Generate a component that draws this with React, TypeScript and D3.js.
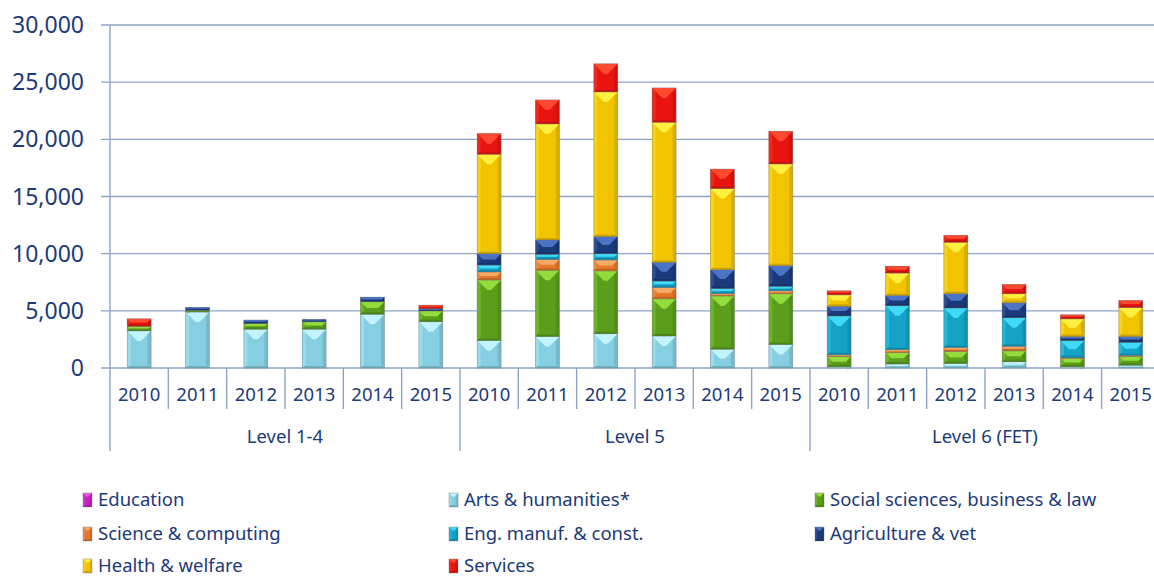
import React from "react";
import * as d3 from "d3";

const years = ["2010", "2011", "2012", "2013", "2014", "2015"];
const levels = ["Level 1-4", "Level 5", "Level 6 (FET)"];

const seriesNames = [
  "Education",
  "Arts & humanities*",
  "Social sciences, business & law",
  "Science & computing",
  "Eng. manuf. & const.",
  "Agriculture & vet",
  "Health & welfare",
  "Services",
];

// values per category: Level 1-4 (2010-2015), Level 5 (2010-2015), Level 6 (2010-2015)
const education = [0, 0, 0, 0, 0, 0, 0, 0, 0, 0, 0, 0, 0, 0, 0, 0, 0, 0];
const arts = [3250, 4900, 3400, 3400, 4700, 4050, 2400, 2750, 3000, 2800, 1650, 2050, 100, 350, 400, 550, 100, 250];
const social = [400, 150, 500, 650, 1100, 950, 5300, 5800, 5500, 3250, 4650, 4450, 900, 1000, 1050, 950, 750, 750];
const science = [0, 0, 0, 0, 0, 0, 700, 950, 950, 1000, 200, 250, 150, 250, 350, 400, 50, 100];
const eng = [0, 0, 0, 0, 0, 0, 600, 450, 550, 550, 450, 400, 3400, 3850, 3450, 2500, 1500, 1150];
const agri = [0, 250, 300, 200, 400, 200, 1000, 1250, 1500, 1650, 1650, 1800, 850, 900, 1250, 1300, 350, 500];
const health = [0, 0, 0, 0, 0, 0, 8700, 10150, 12650, 12250, 7100, 8900, 1000, 1950, 4500, 800, 1550, 2550];
const services = [650, 0, 0, 0, 0, 300, 1800, 2100, 2450, 3000, 1700, 2850, 350, 600, 600, 800, 350, 600];

const yTicks = [0, 5000, 10000, 15000, 20000, 25000, 30000];

const seriesValues = [education, arts, social, science, eng, agri, health, services];
const seriesColors = ["#c41fc4", "#86cfe2", "#5a9e1c", "#e5782a", "#14a2c6", "#1b3a7c", "#f2c400", "#e8140f"];
const seriesLight = ["#e860e8", "#c2f4fd", "#92dc3c", "#f6aa66", "#3fdaf8", "#4b74c4", "#fff040", "#ff4a30"];

const W = 1154;
const H = 577;
const axisColor = "#8ea3c8";
const textColor = "#1c3a78";
const font = "'Noto Sans', 'Open Sans', sans-serif";

function Segment({ x, y, w, h, base, light }: { x: number; y: number; w: number; h: number; base: string; light: string }) {
  if (h <= 0.2) return null;
  const x1 = x + w;
  const y1 = y + h;
  const b = Math.min(w * 0.42, h / 2);
  const dark = d3.color(base)!.darker(0.6).formatHex();
  const lside = d3.interpolateRgb(base, light)(0.35);
  const s = Math.min(3.5, w / 4);
  const bb = Math.min(2, h / 3);
  return (
    <g>
      <rect x={x} y={y} width={w} height={h} fill={base} />
      <polygon points={`${x},${y} ${x + s},${y + s} ${x + s},${y1 - s} ${x},${y1}`} fill={lside} />
      <polygon points={`${x1},${y} ${x1 - s},${y + s} ${x1 - s},${y1 - s} ${x1},${y1}`} fill={dark} opacity={0.55} />
      <polygon points={`${x},${y1} ${x1},${y1} ${x1 - bb},${y1 - bb} ${x + bb},${y1 - bb}`} fill={dark} opacity={0.8} />
      <polygon points={`${x},${y} ${x1},${y} ${x1 - b},${y + b} ${x + b},${y + b}`} fill={light} />
      <rect x={x} y={y} width={w} height={h} fill="none" stroke="rgba(110,110,110,0.45)" strokeWidth={0.8} />
    </g>
  );
}

export default function App() {
  const nCat = years.length * levels.length;
  const plotLeft = 110;
  const step = 58.33;
  const plotRight = plotLeft + step * nCat;
  const idx = d3.range(nCat);
  const x = d3.scaleBand<number>().domain(idx).range([plotLeft, plotRight]).paddingInner(0.59).paddingOuter(0.295);
  const y = d3.scaleLinear().domain([0, 30000]).range([368, 25]);

  const stackData = idx.map((i) => {
    const row: Record<string, number> = { i };
    seriesNames.forEach((n, k) => (row[n] = seriesValues[k][i]));
    return row;
  });
  const stacked = d3.stack<Record<string, number>>().keys(seriesNames)(stackData);

  const bw = x.bandwidth();
  const legendCols = [83, 449, 815];
  const legendRows = [500, 534, 566];

  return (
    <svg width={W} height={H} style={{ position: "absolute", left: 0, top: 0, background: "#fff" }} fontFamily={font}>
      {/* gridlines */}
      {yTicks.map((t) => (
        <g key={t}>
          <line x1={101} x2={plotRight} y1={y(t)} y2={y(t)} stroke={axisColor} strokeWidth={1.4} />
          <text x={84} y={y(t)} dy="0.35em" textAnchor="end" fontSize={23} fill={textColor}>
            {d3.format(",")(t)}
          </text>
        </g>
      ))}
      {/* left axis */}
      <line x1={plotLeft} x2={plotLeft} y1={y(30000)} y2={451} stroke={axisColor} strokeWidth={1.4} />
      {/* category dividers */}
      {d3.range(1, nCat + 1).map((k) => {
        const xx = plotLeft + k * step;
        const isLevel = k % years.length === 0;
        return <line key={k} x1={xx} x2={xx} y1={368} y2={isLevel ? 451 : 409} stroke={axisColor} strokeWidth={1.4} />;
      })}
      {/* year labels */}
      {idx.map((i) => (
        <text key={i} x={x(i)! + bw / 2} y={395} dy="0.35em" textAnchor="middle" fontSize={18.5} fill={textColor}>
          {years[i % years.length]}
        </text>
      ))}
      {/* level labels */}
      {levels.map((l, j) => (
        <text key={l} x={plotLeft + (j + 0.5) * years.length * step} y={437} dy="0.35em" textAnchor="middle" fontSize={18.5} fill={textColor}>
          {l}
        </text>
      ))}
      {/* bars */}
      {stacked.map((s, k) => (
        <g key={s.key}>
          {s.map((d, i) => (
            <Segment key={i} x={x(i)!} y={y(d[1])} w={bw} h={y(d[0]) - y(d[1])} base={seriesColors[k]} light={seriesLight[k]} />
          ))}
        </g>
      ))}
      {/* legend */}
      {seriesNames.map((n, k) => {
        const col = k % 3;
        const row = Math.floor(k / 3);
        const lx = legendCols[col];
        const ly = legendRows[row];
        return (
          <g key={n}>
            <Segment x={lx} y={ly - 7} w={9} h={14} base={seriesColors[k]} light={seriesLight[k]} />
            <text x={lx + 15} y={ly} dy="0.35em" fontSize={18.5} fill={textColor}>
              {n}
            </text>
          </g>
        );
      })}
    </svg>
  );
}
